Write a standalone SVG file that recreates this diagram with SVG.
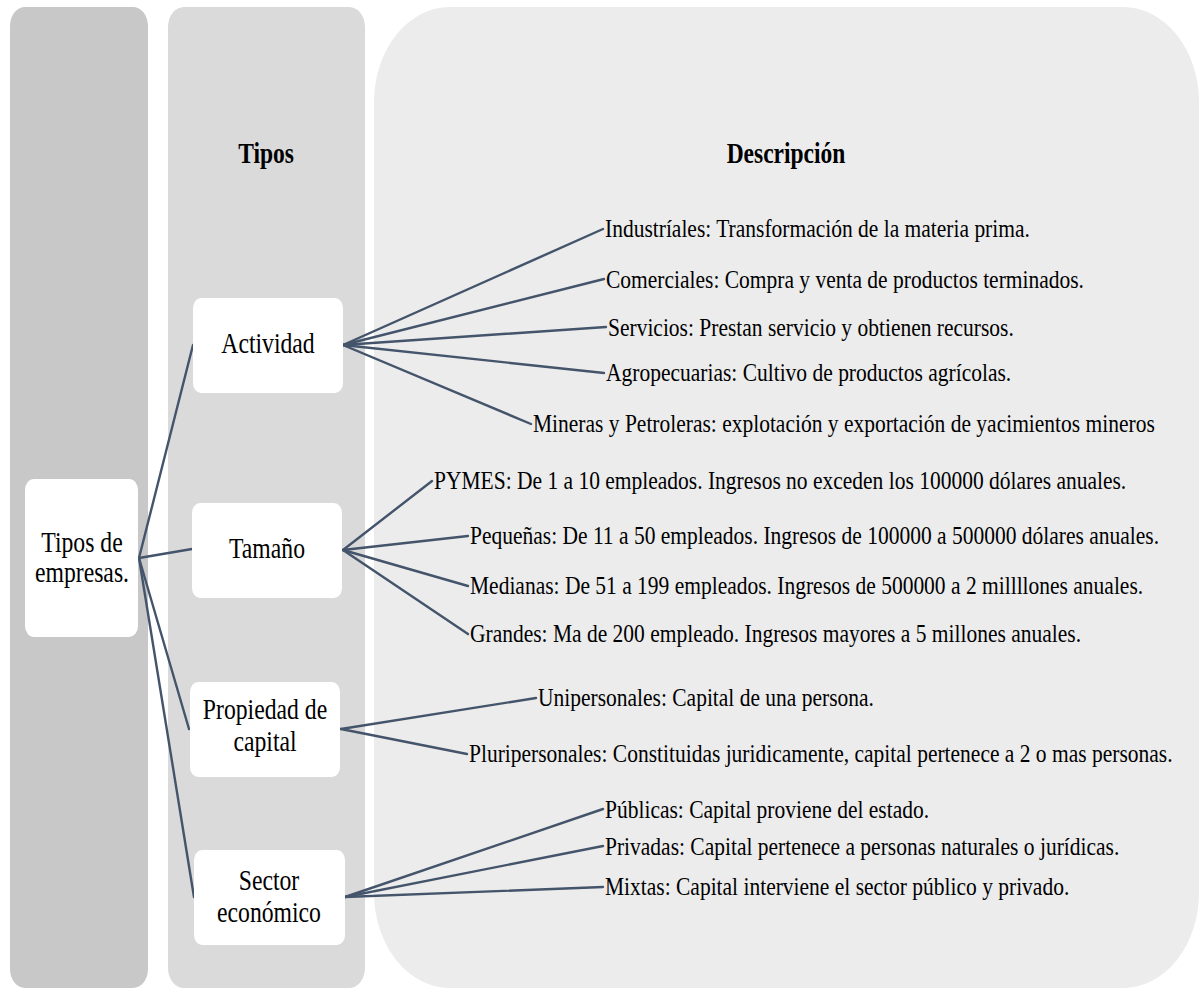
<svg xmlns="http://www.w3.org/2000/svg" width="1202" height="988" viewBox="0 0 1202 988">
  <style>
    .t { font-family: "Liberation Serif", "Times New Roman", serif; fill: #000; }
    .node-text { font-size: 23.7px; text-anchor: middle; }
    .head { font-size: 23.5px; font-weight: bold; text-anchor: middle; }
    .desc { font-size: 21.5px; }
    .box { fill: #ffffff; }
    .link { stroke: #44546a; stroke-width: 2.4; fill: none; stroke-linecap: round; }
  </style>

  <rect width="1202" height="988" fill="#ffffff"/>

  <!-- background columns -->
  <g id="columns">
    <rect x="10" y="7" width="138" height="981" rx="15" ry="19" fill="#c8c8c8"/>
    <rect x="168" y="7" width="197" height="981" rx="16" ry="20" fill="#dadada"/>
    <rect x="374" y="7" width="825" height="981" rx="76" ry="95" fill="#ececec"/>
  </g>

  <!-- column headers -->
  <g id="headers">
    <text class="t head" transform="translate(266,163) scale(1,1.22)">Tipos</text>
    <text class="t head" transform="translate(786,163) scale(1,1.22)">Descripción</text>
  </g>

  <!-- connectors -->
  <g id="connectors">
    <!-- root to categories -->
    <line class="link" x1="139" y1="558" x2="193" y2="345"/>
    <line class="link" x1="139" y1="558" x2="192" y2="549"/>
    <line class="link" x1="139" y1="558" x2="189" y2="729"/>
    <line class="link" x1="139" y1="558" x2="194" y2="897"/>
    <!-- Actividad -->
    <line class="link" x1="343" y1="345" x2="603" y2="229"/>
    <line class="link" x1="343" y1="345" x2="604" y2="279"/>
    <line class="link" x1="343" y1="345" x2="606" y2="327"/>
    <line class="link" x1="343" y1="345" x2="604" y2="373"/>
    <line class="link" x1="343" y1="345" x2="531" y2="424"/>
    <!-- Tamaño -->
    <line class="link" x1="343" y1="550" x2="432" y2="481"/>
    <line class="link" x1="343" y1="550" x2="468" y2="536"/>
    <line class="link" x1="343" y1="550" x2="468" y2="586"/>
    <line class="link" x1="343" y1="550" x2="468" y2="634"/>
    <!-- Propiedad de capital -->
    <line class="link" x1="341" y1="729" x2="536" y2="698"/>
    <line class="link" x1="341" y1="729" x2="467" y2="754"/>
    <!-- Sector económico -->
    <line class="link" x1="345" y1="897" x2="603" y2="809"/>
    <line class="link" x1="345" y1="897" x2="603" y2="846"/>
    <line class="link" x1="345" y1="897" x2="603" y2="887"/>
  </g>

  <!-- nodes -->
  <g id="node-root">
    <rect class="box" x="25" y="479" width="113" height="158" rx="9" ry="11"/>
    <text class="t node-text" transform="translate(82,552) scale(1,1.25)">Tipos de</text>
    <text class="t node-text" transform="translate(82,582) scale(1,1.25)">empresas.</text>
  </g>

  <g id="node-actividad">
    <rect class="box" x="193" y="298" width="150" height="95" rx="8" ry="10"/>
    <text class="t node-text" transform="translate(268,353) scale(1,1.25)">Actividad</text>
  </g>

  <g id="node-tamano">
    <rect class="box" x="192" y="503" width="150" height="95" rx="8" ry="10"/>
    <text class="t node-text" transform="translate(267,558) scale(1,1.25)">Tamaño</text>
  </g>

  <g id="node-propiedad">
    <rect class="box" x="190" y="682" width="150" height="95" rx="8" ry="10"/>
    <text class="t node-text" transform="translate(265,719) scale(1,1.25)">Propiedad de</text>
    <text class="t node-text" transform="translate(265,751) scale(1,1.25)">capital</text>
  </g>

  <g id="node-sector">
    <rect class="box" x="194" y="850" width="151" height="95" rx="8" ry="10"/>
    <text class="t node-text" transform="translate(269,890) scale(1,1.25)">Sector</text>
    <text class="t node-text" transform="translate(269,922) scale(1,1.25)">económico</text>
  </g>

  <!-- description items -->
  <g id="desc-actividad">
    <text class="t desc" transform="translate(605,237) scale(1,1.2)">Industríales: Transformación de la materia prima.</text>
    <text class="t desc" transform="translate(606,288) scale(1,1.2)">Comerciales: Compra y venta de productos terminados.</text>
    <text class="t desc" transform="translate(608,336) scale(1,1.2)">Servicios: Prestan servicio y obtienen recursos.</text>
    <text class="t desc" transform="translate(606,381) scale(1,1.2)">Agropecuarias: Cultivo de productos agrícolas.</text>
    <text class="t desc" transform="translate(533,432) scale(1,1.2)">Mineras y Petroleras: explotación y exportación de yacimientos mineros</text>
  </g>

  <g id="desc-tamano">
    <text class="t desc" transform="translate(434,489) scale(1,1.2)">PYMES: De 1 a 10 empleados. Ingresos no exceden los 100000 dólares anuales.</text>
    <text class="t desc" transform="translate(470,544) scale(1,1.2)">Pequeñas: De 11 a 50 empleados. Ingresos de 100000 a 500000 dólares anuales.</text>
    <text class="t desc" transform="translate(470,594) scale(1,1.2)">Medianas: De 51 a 199 empleados. Ingresos de 500000 a 2 millllones anuales.</text>
    <text class="t desc" transform="translate(470,642) scale(1,1.2)">Grandes: Ma de 200 empleado. Ingresos mayores a 5 millones anuales.</text>
  </g>

  <g id="desc-propiedad">
    <text class="t desc" transform="translate(538,706) scale(1,1.2)">Unipersonales: Capital de una persona.</text>
    <text class="t desc" transform="translate(469,762) scale(1,1.2)">Pluripersonales: Constituidas juridicamente, capital pertenece a 2 o mas personas.</text>
  </g>

  <g id="desc-sector">
    <text class="t desc" transform="translate(605,818) scale(1,1.2)">Públicas: Capital proviene del estado.</text>
    <text class="t desc" transform="translate(605,855) scale(1,1.2)">Privadas: Capital pertenece a personas naturales o jurídicas.</text>
    <text class="t desc" transform="translate(605,895) scale(1,1.2)">Mixtas: Capital interviene el sector público y privado.</text>
  </g>
</svg>
